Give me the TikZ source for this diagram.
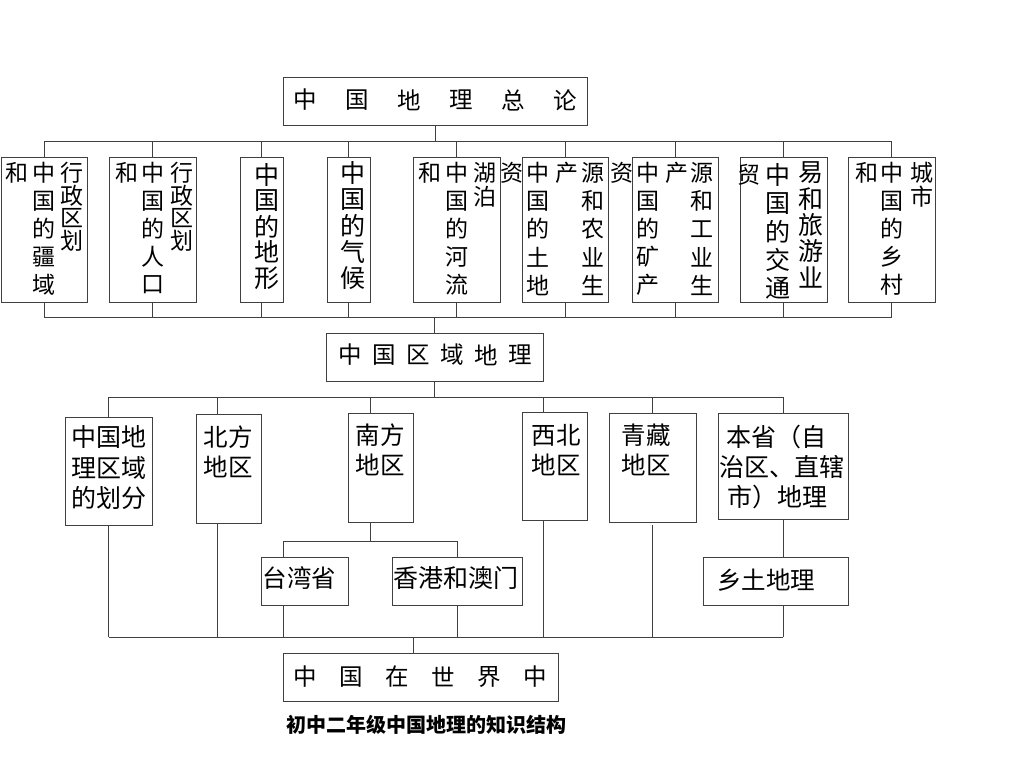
\documentclass[tikz,border=0pt]{standalone}
\usepackage{fontspec}
\newfontfamily\cjk{Noto Sans CJK SC}
\definecolor{lc}{HTML}{404040}
\tikzset{
  box/.style={draw=lc,line width=1pt,inner sep=0pt,outer sep=0pt,rectangle},
  conn/.style={draw=lc,line width=1pt},
  txt/.style={inner sep=0pt,outer sep=0pt,text=black},
}
\newcommand\fs[1]{\cjk\fontsize{#1}{#1}\selectfont}
% vertical column: name, x, y0, dy, size, list
\newcommand\vcol[6]{\foreach \c [count=\i from 0] in {#6}{\node[txt,font=\fs{#5}] (#1-\i) at (#2,#3+\i*#4) {\c};}}
% horizontal row: name, x0, y, dx, size, list
\newcommand\hrow[6]{\foreach \c [count=\i from 0] in {#6}{\node[txt,font=\fs{#5}] (#1-\i) at (#2+\i*#4,#3) {\c};}}
\begin{document}
\begin{tikzpicture}[x=1pt,y=-1pt]
\useasboundingbox[fill=white] (0,0) rectangle (1024,768);
% ---------- boxes ----------
\node[box,minimum width=304pt,minimum height=48pt] (top) at (435,101) {};
\node[box,minimum width=86pt,minimum height=145pt] (t1) at (44,229.5) {};
\node[box,minimum width=87pt,minimum height=145pt] (t2) at (152.5,229.5) {};
\node[box,minimum width=43pt,minimum height=145pt] (t3) at (261.5,229.5) {};
\node[box,minimum width=43pt,minimum height=145pt] (t4) at (348.5,229.5) {};
\node[box,minimum width=87pt,minimum height=145pt] (t5) at (456.5,229.5) {};
\node[box,minimum width=86pt,minimum height=145pt] (t6) at (565,229.5) {};
\node[box,minimum width=86pt,minimum height=145pt] (t7) at (675,229.5) {};
\node[box,minimum width=87pt,minimum height=145pt] (t8) at (783.5,229.5) {};
\node[box,minimum width=87pt,minimum height=145pt] (t9) at (891.5,229.5) {};
\node[box,minimum width=217pt,minimum height=48pt] (mid) at (434.5,357) {};
\node[box,minimum width=87pt,minimum height=108pt] (m1) at (108.5,471) {};
\node[box,minimum width=65pt,minimum height=109pt] (m2) at (228.5,468.5) {};
\node[box,minimum width=65pt,minimum height=109pt] (m3) at (380.5,467.5) {};
\node[box,minimum width=65pt,minimum height=108pt] (m4) at (554.5,466) {};
\node[box,minimum width=87pt,minimum height=109pt] (m5) at (652.5,467.5) {};
\node[box,minimum width=130pt,minimum height=106pt] (m6) at (783,466) {};
\node[box,minimum width=87pt,minimum height=48pt] (tw) at (304.5,581) {};
\node[box,minimum width=130pt,minimum height=48pt] (hk) at (457,581) {};
\node[box,minimum width=145pt,minimum height=48pt] (xt) at (775.5,581) {};
\node[box,minimum width=275pt,minimum height=48pt] (world) at (420.5,677) {};
% ---------- bus coordinates ----------
\coordinate (busA) at (0,141);
\coordinate (busB) at (0,317);
\coordinate (busC) at (0,397);
\coordinate (busD) at (0,541);
\coordinate (busE) at (0,637);
\coordinate (k2) at (217,0);
\coordinate (k3) at (370,0);
\coordinate (k4) at (543,0);
\coordinate (ktw) at (283,0);
\coordinate (kw) at (413,0);
% ---------- connectors ----------
\draw[conn] (top.south) -- (top.south |- busA);
\draw[conn] (t1.north |- busA) -- (t9.north |- busA);
\draw[conn] (t1.south |- busB) -- (t9.south |- busB);
\foreach \n in {t1,t2,t3,t4,t5,t6,t7,t8,t9}{
  \draw[conn] (\n.north) -- (\n.north |- busA);
  \draw[conn] (\n.south) -- (\n.south |- busB);
}
\draw[conn] (mid.north |- busB) -- (mid.north);
\draw[conn] (mid.south) -- (mid.south |- busC);
\draw[conn] (m1.north |- busC) -- (m6.north |- busC);
\draw[conn] (m1.north |- busC) -- (m1.north);
\draw[conn] (k2 |- busC) -- (k2 |- m2.north);
\draw[conn] (k3 |- busC) -- (k3 |- m3.north);
\draw[conn] (k4 |- busC) -- (k4 |- m4.north);
\draw[conn] (m5.north |- busC) -- (m5.north);
\draw[conn] (m6.north |- busC) -- (m6.north);
\draw[conn] (k3 |- m3.south) -- (k3 |- busD);
\draw[conn] (ktw |- busD) -- (hk.north |- busD);
\draw[conn] (ktw |- busD) -- (ktw |- tw.north);
\draw[conn] (hk.north |- busD) -- (hk.north);
\draw[conn] (m6.south) -- (m6.south |- xt.north);
\draw[conn] (m1.south |- busE) -- (m6.south |- busE);
\draw[conn] (m1.south) -- (m1.south |- busE);
\draw[conn] (k2 |- m2.south) -- (k2 |- busE);
\draw[conn] (ktw |- tw.south) -- (ktw |- busE);
\draw[conn] (hk.south) -- (hk.south |- busE);
\draw[conn] (k4 |- m4.south) -- (k4 |- busE);
\draw[conn] ([yshift=-3pt]m5.south) -- (m5.south |- busE);
\draw[conn] (m6.south |- xt.south) -- (m6.south |- busE);
\draw[conn] (kw |- busE) -- (kw |- world.north);
% ---------- texts ----------
\hrow{ttl}{305}{100}{52}{23.5}{中,国,地,理,总,论}
% t1
\node[txt,font=\fs{23}] (t1a) at (17,173) {和};
\vcol{t1b}{44}{173}{28}{23}{中,国,的,疆,域}
\vcol{t1c}{72}{173}{22.5}{23}{行,政,区,划}
% t2
\node[txt,font=\fs{23}] (t2a) at (127,173) {和};
\vcol{t2b}{153}{173}{28}{23}{中,国,的,人,口}
\vcol{t2c}{182}{173}{22.5}{23}{行,政,区,划}
% t3, t4
\vcol{t3b}{267}{175}{25.7}{25}{中,国,的,地,形}
\vcol{t4b}{353}{173}{26.2}{25}{中,国,的,气,候}
% t5
\node[txt,font=\fs{23}] (t5a) at (430,173) {和};
\vcol{t5b}{457}{173}{28}{23}{中,国,的,河,流}
\vcol{t5c}{485}{173}{23.5}{23}{湖,泊}
\node[txt,font=\fs{23}] (z1) at (512,173) {资};
% t6
\vcol{t6b}{538}{173}{28}{23}{中,国,的,土,地}
\node[txt,font=\fs{23}] (t6a) at (567,173) {产};
\vcol{t6c}{593}{173}{28}{23}{源,和,农,业,生}
\node[txt,font=\fs{23}] (z2) at (622,173) {资};
% t7
\vcol{t7b}{648}{173}{28}{23}{中,国,的,矿,产}
\node[txt,font=\fs{23}] (t7a) at (677,173) {产};
\vcol{t7c}{702}{173}{28}{23}{源,和,工,业,生}
% t8
\node[txt,font=\fs{23}] (t8a) at (749,175) {贸};
\vcol{t8b}{778}{175}{28.3}{25}{中,国,的,交,通}
\vcol{t8c}{811}{173}{26}{25}{易,和,旅,游,业}
% t9
\node[txt,font=\fs{23}] (t9a) at (867,173) {和};
\vcol{t9b}{892}{173}{28}{23}{中,国,的,乡,村}
\vcol{t9c}{922}{173}{23.5}{23}{城,市}
% middle title
\hrow{mt}{350}{355}{34}{23.5}{中,国,区,域,地,理}
% middle row
\node[txt,font=\fs{25}] (m1a) at (109,437) {中国地};
\node[txt,font=\fs{25}] (m1b) at (109,468) {理区域};
\node[txt,font=\fs{25}] (m1c) at (109,498) {的划分};
\node[txt,font=\fs{24.5}] (m2a) at (228,437) {北方};
\node[txt,font=\fs{24.5}] (m2b) at (228,467) {地区};
\node[txt,font=\fs{24.5}] (m3a) at (380,435) {南方};
\node[txt,font=\fs{24.5}] (m3b) at (380,465) {地区};
\node[txt,font=\fs{24.5}] (m4a) at (556,435) {西北};
\node[txt,font=\fs{24.5}] (m4b) at (556,465) {地区};
\node[txt,font=\fs{24.5}] (m5a) at (646,435) {青藏};
\node[txt,font=\fs{24.5}] (m5b) at (646,465) {地区};
\node[txt,font=\fs{25}] (m6a) at (776,437) {本省（自};
\node[txt,font=\fs{25}] (m6b) at (782,467) {治区、直辖};
\node[txt,font=\fs{25}] (m6c) at (777,497) {市）地理};
\node[txt,font=\fs{24.5}] (twt) at (299.5,578) {台湾省};
\node[txt,font=\fs{25}] (hkt) at (455.5,578) {香港和澳门};
\node[txt,font=\fs{24.5}] (xtt) at (766,580) {乡土地理};
% bottom
\hrow{wd}{305}{677}{46}{23.5}{中,国,在,世,界,中}
\node[txt,font=\cjk\bfseries\fontsize{20}{20}\selectfont] (cap) at (426,725) {初中二年级中国地理的知识结构};
\end{tikzpicture}
\end{document}
